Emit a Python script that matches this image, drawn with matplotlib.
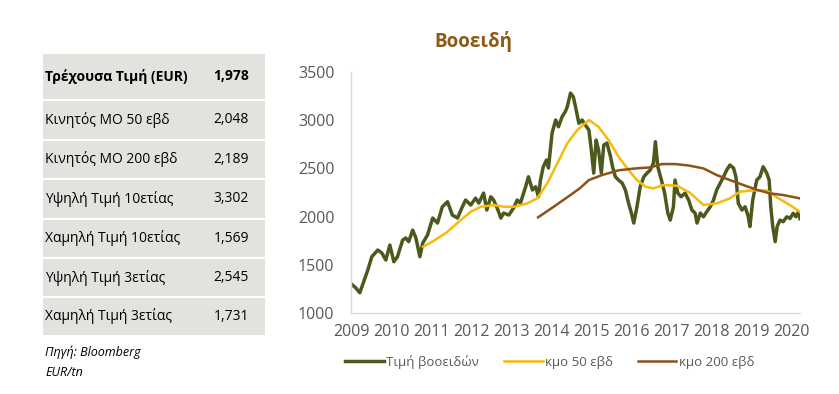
import matplotlib
matplotlib.use("Agg")
import matplotlib.pyplot as plt
from matplotlib.patches import Rectangle

plt.rcParams["font.family"] = ["Open Sans", "DejaVu Sans"]

# summary table
table_labels = [
    "Τρέχουσα Τιμή (EUR)",
    "Κινητός ΜΟ 50 εβδ",
    "Κινητός ΜΟ 200 εβδ",
    "Υψηλή Τιμή 10ετίας",
    "Χαμηλή Τιμή 10ετίας",
    "Υψηλή Τιμή 3ετίας",
    "Χαμηλή Τιμή 3ετίας",
]
table_values = ["1,978", "2,048", "2,189", "3,302", "1,569", "2,545", "1,731"]

# price series (decimal year, EUR/tn)
price_x = [
    2009.04, 2009.12, 2009.22, 2009.33, 2009.42, 2009.52, 2009.67, 2009.77, 2009.87,
    2009.97, 2010.07, 2010.16, 2010.29, 2010.37, 2010.44, 2010.54, 2010.62, 2010.72,
    2010.79, 2010.91, 2011.04, 2011.16, 2011.28, 2011.41, 2011.53, 2011.66, 2011.78,
    2011.86, 2011.99, 2012.11, 2012.19, 2012.31, 2012.39, 2012.49, 2012.56, 2012.65,
    2012.74, 2012.81, 2012.94, 2013.06, 2013.15, 2013.23, 2013.36, 2013.43, 2013.53,
    2013.61, 2013.68, 2013.73, 2013.80, 2013.88, 2013.93, 2014.02, 2014.11, 2014.18,
    2014.27, 2014.35, 2014.40, 2014.48, 2014.55, 2014.60, 2014.69, 2014.77, 2014.85,
    2014.94, 2015.00, 2015.06, 2015.12, 2015.18, 2015.25, 2015.31, 2015.39, 2015.48,
    2015.53, 2015.60, 2015.68, 2015.77, 2015.85, 2015.93, 2016.00, 2016.06, 2016.14,
    2016.22, 2016.31, 2016.39, 2016.47, 2016.55, 2016.60, 2016.66, 2016.75, 2016.83,
    2016.91, 2016.97, 2017.05, 2017.09, 2017.16, 2017.24, 2017.34, 2017.43, 2017.51,
    2017.59, 2017.64, 2017.72, 2017.80, 2017.88, 2017.97, 2018.05, 2018.13, 2018.22,
    2018.30, 2018.38, 2018.46, 2018.55, 2018.61, 2018.67, 2018.76, 2018.84, 2018.92,
    2018.96, 2019.03, 2019.13, 2019.21, 2019.29, 2019.38, 2019.44, 2019.48, 2019.53,
    2019.59, 2019.64, 2019.71, 2019.79, 2019.88, 2019.96, 2020.04, 2020.11, 2020.17,
    2020.21,
]
price_y = [
    1290, 1260, 1210, 1340, 1446, 1584, 1653, 1622, 1550,
    1705, 1532, 1584, 1757, 1778, 1740, 1860, 1778, 1584,
    1725, 1809, 1985, 1933, 2102, 2154, 2016, 1985, 2102,
    2172, 2120, 2192, 2140, 2244, 2068, 2206, 2172, 2089,
    1985, 2037, 2016, 2089, 2172, 2140, 2310, 2413, 2276,
    2310, 2206, 2379, 2517, 2587, 2504, 2867, 3002, 2932,
    3036, 3088, 3140, 3281, 3243, 3150, 2967, 3002, 2950,
    2898, 2690, 2451, 2794, 2690, 2451, 2742, 2763, 2621,
    2517, 2413, 2379, 2348, 2276, 2140, 2037, 1933, 2102,
    2310, 2413, 2451, 2483, 2555, 2777, 2517, 2379, 2244,
    2037, 1964, 2102, 2379, 2244, 2206, 2244, 2172, 2068,
    2037, 1933, 2037, 1998, 2050, 2102, 2172, 2276, 2348,
    2413, 2483, 2535, 2504, 2413, 2137, 2068, 2102, 1998,
    1897, 2172, 2379, 2413, 2517, 2451, 2379, 2102, 1897,
    1740, 1897, 1964, 1947, 1998, 1981, 2034, 1998, 2050,
    1978,
]

# 50-week moving average
ma50_x = [
    2010.80, 2011.03, 2011.37, 2011.74, 2011.99, 2012.24, 2012.57, 2012.82,
    2013.07, 2013.40, 2013.65, 2013.90, 2014.15, 2014.40, 2014.65, 2014.94,
    2015.18, 2015.43, 2015.68, 2015.93, 2016.14, 2016.35, 2016.55, 2016.80,
    2017.14, 2017.47, 2017.80, 2018.13, 2018.46, 2018.71, 2019.04, 2019.38,
    2019.63, 2019.96, 2020.21,
]
ma50_y = [
    1688, 1740, 1830, 1964, 2050, 2102, 2120, 2102,
    2102, 2137, 2189, 2345, 2552, 2760, 2898, 3002,
    2932, 2794, 2621, 2483, 2379, 2310, 2293, 2327,
    2320, 2245, 2120, 2137, 2189, 2258, 2272, 2272,
    2200, 2120, 2048,
]

# 200-week moving average
ma200_x = [
    2013.67, 2014.06, 2014.48, 2014.71, 2014.94, 2015.27, 2015.68, 2016.10,
    2016.47, 2016.76, 2017.09, 2017.43, 2017.80, 2018.13, 2018.46, 2018.80,
    2019.13, 2019.46, 2019.79, 2020.21,
]
ma200_y = [
    1992, 2102, 2224, 2293, 2379, 2431, 2480, 2500,
    2510, 2545, 2545, 2530, 2500, 2431, 2379, 2327,
    2278, 2241, 2224, 2189,
]

price_color = "#4B5A1C"
ma50_color = "#F7BA0B"
ma200_color = "#8E5219"
text_gray = "#595959"

fig = plt.figure(figsize=(8.39, 3.94), dpi=100)

# left table, positions in figure pixels
W, H = 839.0, 394.0
row_edges = [54, 101, 140.7, 180, 220, 259, 298, 336.7]
for i, (label, value) in enumerate(zip(table_labels, table_values)):
    top, bot = row_edges[i], row_edges[i + 1] - 2
    fig.patches.append(Rectangle((43 / W, 1 - bot / H), (265 - 43) / W, (bot - top) / H,
                                 transform=fig.transFigure, facecolor="#E3E2DE",
                                 edgecolor="none"))
    yc = 1 - (top + bot) / 2 / H
    weight = "bold" if i == 0 else "normal"
    fig.text(45 / W, yc, label, fontsize=10, color="black", weight=weight, va="center", ha="left")
    fig.text(249 / W, yc, value, fontsize=10, color="black", weight=weight, va="center", ha="right")

fig.text(45 / W, 1 - 352 / H, "Πηγή: Bloomberg", fontsize=9, style="italic", va="center", ha="left")
fig.text(45 / W, 1 - 373 / H, "EUR/tn", fontsize=9, style="italic", va="center", ha="left")

# chart
ax = fig.add_axes([351 / W, 1 - 313 / H, (800 - 351) / W, (313 - 72) / H])
ax.plot(price_x, price_y, color=price_color, lw=2.5, label="Τιμή βοοειδών", solid_joinstyle="round")
ax.plot(ma50_x, ma50_y, color=ma50_color, lw=1.8, label="κμο 50 εβδ")
ax.plot(ma200_x, ma200_y, color=ma200_color, lw=1.8, label="κμο 200 εβδ")

ax.set_xlim(2009.0, 2020.21)
ax.set_ylim(1000, 3500)
ax.set_yticks(range(1000, 3501, 500))
ax.set_xticks(range(2009, 2021))
ax.tick_params(length=0, labelsize=11.5, colors=text_gray)
ax.tick_params(axis="y", pad=12)
ax.tick_params(axis="x", pad=8)
for side in ["top", "right"]:
    ax.spines[side].set_visible(False)
for side in ["left", "bottom"]:
    ax.spines[side].set_color("#D9D9D9")
    ax.spines[side].set_linewidth(1)

fig.text(473 / W, 1 - 42 / H, "Βοοειδή", fontsize=13.5, weight="bold", color="#8B5A14",
         ha="center", va="center")

leg = ax.legend(loc="center", bbox_to_anchor=(550 / W, 1 - 362 / H), bbox_transform=fig.transFigure,
                ncol=3, frameon=False, fontsize=9.5, handlelength=2.9, handletextpad=0.2,
                columnspacing=1.9)
for t in leg.get_texts():
    t.set_color(text_gray)

fig.savefig("out.png", dpi=100)
